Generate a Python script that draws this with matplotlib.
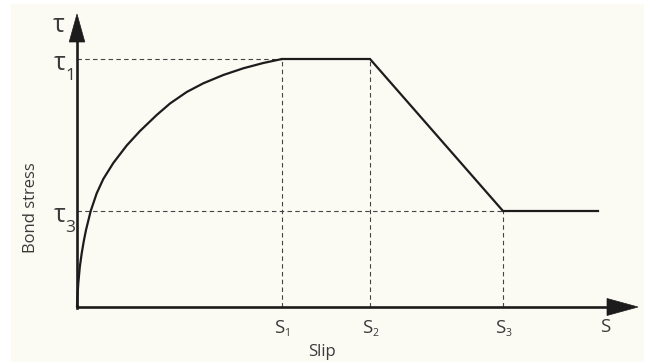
import matplotlib
matplotlib.use("Agg")
import matplotlib.pyplot as plt
from matplotlib.patches import Polygon, Rectangle

# ---- data (arbitrary units) ----
curve_s = [0.0, 0.004, 0.013, 0.028, 0.047, 0.068, 0.09, 0.137, 0.197, 0.263,
           0.363, 0.497, 0.63, 0.797, 0.93, 1.097, 1.263, 1.463, 1.663, 1.863, 2.05]
curve_tau = [0.0, 0.10, 0.237, 0.40, 0.537, 0.66, 0.77, 0.96, 1.137, 1.28,
             1.44, 1.615, 1.76, 1.92, 2.035, 2.15, 2.237, 2.32, 2.387, 2.44, 2.48]
s1, s2, s3, s_end = 2.05, 2.93, 4.26, 5.21
tau1, tau3 = 2.48, 0.96
x_tick_labels = ["S", "S", "S", "S"]
x_tick_subs = ["1", "2", "3", ""]
y_tick_subs = ["1", "3"]

FONT = ["Open Sans", "DejaVu Sans"]
TXT = "#3a3a3a"
LINE = "#1c1c1c"

fig = plt.figure(figsize=(6.45, 3.63), dpi=100, facecolor="white")
ax = fig.add_axes([0, 0, 1, 1])
ax.set_xlim(-0.77, 5.68)
ax.set_ylim(-0.56, 3.07)
ax.axis("off")

# background panel
ax.add_patch(Rectangle((-0.66, -0.55), 6.33, 3.58, facecolor="#fbfbf4",
                       edgecolor="none", zorder=0))

dash = dict(color="#444444", lw=0.8, ls=(0, (4, 3)), zorder=2)
ax.plot([0, s1], [tau1, tau1], **dash)
ax.plot([0, s3], [tau3, tau3], **dash)
ax.plot([s1, s1], [0, tau1], **dash)
ax.plot([s2, s2], [0, tau1], **dash)
ax.plot([s3, s3], [0, tau3], **dash)

# bond-slip law
ax.plot(curve_s, curve_tau, color=LINE, lw=1.6, zorder=3,
        solid_capstyle="round", solid_joinstyle="round")
ax.plot([s1, s2, s3, s_end], [tau1, tau1, tau3, tau3], color=LINE, lw=1.6,
        zorder=3, solid_joinstyle="miter")

# axes with arrows
ax.plot([0, 5.35], [0, 0], color=LINE, lw=1.9, zorder=4, solid_capstyle="butt")
ax.plot([0, 0], [0, 2.70], color=LINE, lw=1.9, zorder=4, solid_capstyle="butt")
ax.plot([0, 0], [-0.01, 0.01], color=LINE, lw=1.9, zorder=4)
ax.add_patch(Polygon([[5.30, 0.085], [5.61, 0.0], [5.30, -0.085]], closed=True,
                     facecolor=LINE, edgecolor=LINE, lw=0.5, zorder=5))
ax.add_patch(Polygon([[-0.078, 2.65], [0.0, 2.93], [0.078, 2.65]], closed=True,
                     facecolor=LINE, edgecolor=LINE, lw=0.5, zorder=5))

# x labels
for s, lab, sub in zip([s1, s2, s3, 5.28], x_tick_labels, x_tick_subs):
    if sub:
        ax.text(s - 0.03, -0.21, lab, ha="center", va="center", fontsize=13.5,
                color=TXT, family=FONT)
        ax.text(s + 0.05, -0.265, sub, ha="center", va="center", fontsize=7.5,
                color=TXT, family=FONT)
    else:
        ax.text(s, -0.205, lab, ha="center", va="center", fontsize=13.5,
                color=TXT, family=FONT)

# y labels
ax.text(-0.185, 2.81, "τ", ha="center", va="center", fontsize=18, color=TXT, family=FONT)
for t, sub in zip([tau1, tau3], y_tick_subs):
    ax.text(-0.175, t - 0.045, "τ", ha="center", va="center", fontsize=18,
            color=TXT, family=FONT)
    ax.text(-0.07, t - 0.175, sub, ha="center", va="center", fontsize=12.5,
            color=TXT, family=FONT)

ax.text(2.45, -0.45, "Slip", ha="center", va="center", fontsize=12, color=TXT, family=FONT)
ax.text(-0.46, 0.99, "Bond stress", ha="center", va="center", fontsize=12,
        color=TXT, family=FONT, rotation=90)

fig.savefig("out.png", dpi=100, facecolor="white")
